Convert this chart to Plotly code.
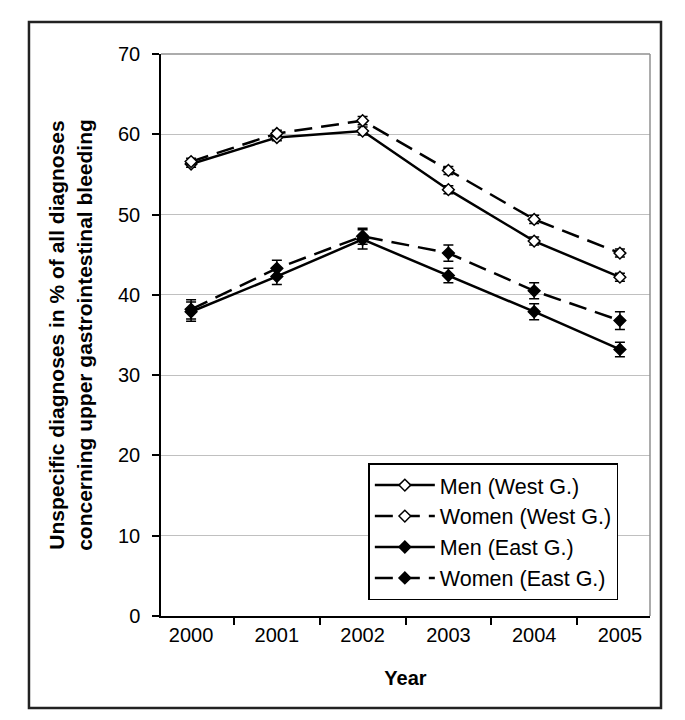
import plotly.graph_objects as go

years = ["2000", "2001", "2002", "2003", "2004", "2005"]
men_west = [56.3, 59.6, 60.4, 53.1, 46.7, 42.2]
women_west = [56.6, 60.1, 61.7, 55.5, 49.4, 45.2]
men_east = [37.9, 42.3, 46.9, 42.4, 37.9, 33.2]
women_east = [38.2, 43.3, 47.3, 45.2, 40.5, 36.8]
err_men_west = [0.4, 0.4, 0.5, 0.5, 0.5, 0.5]
err_women_west = [0.4, 0.4, 0.5, 0.5, 0.5, 0.5]
err_men_east = [1.2, 1.0, 1.2, 0.9, 1.0, 0.9]
err_women_east = [1.2, 1.0, 1.0, 1.0, 1.0, 1.1]
y_ticks = [0, 10, 20, 30, 40, 50, 60, 70]

FONT = "Liberation Sans, Arial, sans-serif"
DASH = "18px,9px"

series = [
    ("Men (West G.)", men_west, err_men_west, "solid", "white"),
    ("Women (West G.)", women_west, err_women_west, DASH, "white"),
    ("Men (East G.)", men_east, err_men_east, "solid", "black"),
    ("Women (East G.)", women_east, err_women_east, DASH, "black"),
]

fig = go.Figure()
for name, vals, errs, dash, fill in series:
    fig.add_trace(go.Scatter(
        x=years, y=vals, name=name, mode="lines+markers",
        line=dict(color="black", width=2.5, dash=dash),
        marker=dict(symbol="diamond", size=9, color=fill,
                    line=dict(color="black", width=1.5)),
        error_y=dict(type="data", array=errs, visible=True,
                     color="black", thickness=1.5, width=5),
    ))

fig.update_layout(
    width=685, height=720,
    margin=dict(l=153, r=43, t=46, b=112),
    paper_bgcolor="white", plot_bgcolor="white",
    font=dict(family=FONT, size=20, color="black"),
    showlegend=True,
    legend=dict(x=0.424, y=0.272, xanchor="left", yanchor="top",
                bgcolor="white", bordercolor="black", borderwidth=1.5,
                font=dict(family=FONT, size=21.5, color="black"),
                tracegroupgap=0, itemwidth=60),
    xaxis=dict(type="category", tickson="boundaries", ticks="outside",
               ticklen=7, tickwidth=1.5, tickcolor="black",
               showline=True, linecolor="black", linewidth=1.5,
               showgrid=False, zeroline=False,
               title=dict(text="<b>Year</b>", font=dict(size=20), standoff=26),
               tickfont=dict(size=20)),
    yaxis=dict(range=[0, 70], tickvals=y_ticks, ticks="outside",
               ticklen=7, tickwidth=1.5, tickcolor="black",
               showline=True, linecolor="black", linewidth=1.5,
               showgrid=True, gridcolor="#c0c0c0", gridwidth=1,
               zeroline=False, tickfont=dict(size=20),
               ticklabelstandoff=8,
               title=dict(text="<b>Unspecific diagnoses in % of all diagnoses<br>concerning upper gastrointestinal bleeding</b>",
                          font=dict(size=21), standoff=20)),
    shapes=[
        dict(type="line", xref="paper", yref="paper", x0=1, x1=1, y0=0, y1=1,
             line=dict(color="#909090", width=1.5)),
        dict(type="line", xref="paper", yref="paper", x0=0, x1=1, y0=1, y1=1,
             line=dict(color="#909090", width=1.5)),
        dict(type="rect", xref="paper", yref="paper", x0=-0.27, x1=1.0225,
             y0=-0.1637, y1=1.057, line=dict(color="#222222", width=2.5)),
    ],
)

fig.write_html("out.html")
